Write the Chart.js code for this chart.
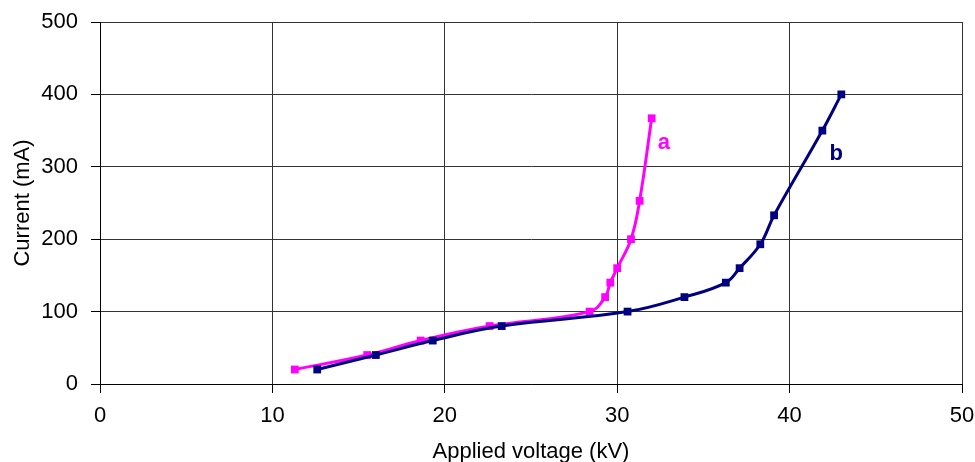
<!DOCTYPE html>
<html>
<head>
<meta charset="utf-8">
<script src="https://cdn.jsdelivr.net/npm/chart.js@4/dist/chart.umd.min.js"></script>
<style>
  html, body { margin: 0; padding: 0; background: #fff; }
  #wrap { width: 975px; height: 462px; }
</style>
</head>
<body>
<div id="wrap"><canvas id="chart" width="975" height="462"></canvas></div>
<script>
// curve a
const voltageA = [11.3, 15.5, 18.6, 22.6, 28.4, 29.3, 29.6, 30.0, 30.8, 31.3, 32.0]
const currentA = [20, 40, 60, 80, 100, 120, 140, 160, 200, 253, 367]
// curve b
const voltageB = [12.6, 16.0, 19.3, 23.3, 30.6, 33.9, 36.3, 37.1, 38.3, 39.1, 41.9, 43.0]
const currentB = [20, 40, 60, 80, 100, 120, 140, 160, 193, 233, 350, 400]

const seriesNames = ['a', 'b']
const seriesColors = ['#ff00ff', '#000080']
// where each curve name sits, in kV / mA
const nameAt = [[32.7, 333], [42.7, 318]]

const xTicks = [0, 10, 20, 30, 40, 50]
const yTicks = [0, 100, 200, 300, 400, 500]

const font = {family: 'Liberation Sans, Arial, sans-serif', size: 22}

function toPoints(xs, ys) {
    return xs.map((x, i) => ({x: x, y: ys[i]}))
}

function lineSet(name, xs, ys, color) {
    return {
        label: name,
        data: toPoints(xs, ys),
        showLine: true,
        borderColor: color,
        backgroundColor: color,
        borderWidth: 3,
        tension: 0.4,
        pointStyle: 'rect',
        pointRadius: 5.5,
        pointBorderWidth: 0
    }
}

const curveNames = {
    id: 'curveNames',
    afterDatasetsDraw(chart) {
        const ctx = chart.ctx
        const xs = chart.scales.x, ys = chart.scales.y
        ctx.save()
        ctx.font = `bold ${font.size}px ${font.family}`
        ctx.textAlign = 'center'
        ctx.textBaseline = 'middle'
        nameAt.forEach((p, i) => {
            ctx.fillStyle = seriesColors[i]
            ctx.fillText(seriesNames[i], xs.getPixelForValue(p[0]), ys.getPixelForValue(p[1]))
        })
        ctx.restore()
    }
}

new Chart(document.getElementById('chart'), {
    type: 'scatter',
    data: {
        datasets: [
            lineSet(seriesNames[1], voltageB, currentB, seriesColors[1]),
            lineSet(seriesNames[0], voltageA, currentA, seriesColors[0])
        ]
    },
    plugins: [curveNames],
    options: {
        responsive: false,
        animation: false,
        layout: {padding: {left: 0, right: 13, top: 22, bottom: 0}},
        plugins: {legend: {display: false}, tooltip: {enabled: false}},
        scales: {
            x: {
                type: 'linear',
                min: xTicks[0],
                max: xTicks[xTicks.length - 1],
                afterBuildTicks: s => { s.ticks = xTicks.map(v => ({value: v})) },
                afterFit: s => { s.height = 78; s.paddingLeft = 0; s.paddingRight = 0 },
                grid: {color: '#333', lineWidth: 1, tickLength: 9, tickColor: '#000'},
                border: {color: '#000', width: 1},
                ticks: {color: '#000', font: font, padding: 10, maxRotation: 0},
                title: {display: true, text: 'Applied voltage (kV)', color: '#000', font: font, padding: {top: 0, bottom: -3}}
            },
            y: {
                type: 'linear',
                min: yTicks[0],
                max: yTicks[yTicks.length - 1],
                afterBuildTicks: s => { s.ticks = yTicks.map(v => ({value: v})) },
                afterFit: s => { s.width = 100; s.paddingTop = 0; s.paddingBottom = 0 },
                grid: {color: '#333', lineWidth: 1, tickLength: 9, tickColor: '#000'},
                border: {color: '#000', width: 1},
                ticks: {color: '#000', font: font, padding: 13},
                title: {display: true, text: 'Current (mA)', color: '#000', font: font, padding: {top: 10, bottom: 0}}
            }
        }
    }
})
</script>
</body>
</html>
